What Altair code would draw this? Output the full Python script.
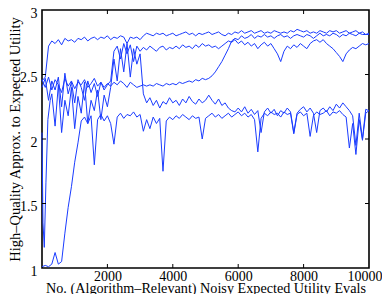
import altair as alt
import pandas as pd

X_TITLE = "No. (Algorithm\u2013Relevant) Noisy Expected Utility Evals"
Y_TITLE = "High\u2013Quality Approx. to Expected Utility"

X_LABELS = [2000, 4000, 6000, 8000, 10000]
Y_LABELS = [1, 1.5, 2, 2.5, 3]
X_INNER_TICKS = [2000, 4000, 6000, 8000]
Y_INNER_TICKS = [1.5, 2, 2.5]

GRID_X = list(range(0, 10001, 100))

run_a = [2.45, 2.48, 2.72, 2.76, 2.74, 2.77, 2.73, 2.78, 2.76, 2.77,
         2.75, 2.78, 2.77, 2.79, 2.76, 2.78, 2.79, 2.77, 2.79, 2.78,
         2.80, 2.77, 2.79, 2.78, 2.80, 2.79, 2.74, 2.79, 2.78, 2.79,
         2.77, 2.80, 2.82, 2.81, 2.80, 2.82, 2.81, 2.82, 2.80, 2.81,
         2.82, 2.80, 2.81, 2.82, 2.83, 2.81, 2.82, 2.80, 2.82, 2.81,
         2.82, 2.83, 2.81, 2.82, 2.83, 2.81, 2.80, 2.82, 2.81, 2.83,
         2.82, 2.84, 2.82, 2.83, 2.84, 2.82, 2.83, 2.84, 2.82, 2.83,
         2.82, 2.84, 2.83, 2.82, 2.83, 2.82, 2.84, 2.83, 2.85, 2.84,
         2.83, 2.84, 2.82, 2.83, 2.82, 2.84, 2.83, 2.82, 2.84, 2.83,
         2.84, 2.82, 2.83, 2.84, 2.82, 2.83, 2.84, 2.82, 2.83, 2.81,
         2.82]

run_b = [2.40, 2.47, 2.30, 2.45, 2.38, 2.48, 2.25, 2.51, 2.35, 2.44,
         2.28, 2.46, 2.40, 2.30, 2.45, 2.36, 2.43, 2.33, 2.44, 2.38,
         2.42, 2.45, 2.68, 2.72, 2.62, 2.74, 2.66, 2.73, 2.60, 2.72,
         2.68, 2.71, 2.69, 2.72, 2.70, 2.68, 2.71, 2.72, 2.69, 2.71,
         2.70, 2.72, 2.70, 2.73, 2.71, 2.72, 2.70, 2.73, 2.71, 2.74,
         2.72, 2.73, 2.71, 2.72, 2.70, 2.72, 2.74, 2.76, 2.75, 2.77,
         2.74, 2.76, 2.73, 2.75, 2.72, 2.74, 2.70, 2.73, 2.75, 2.72,
         2.74, 2.70, 2.66, 2.60, 2.68, 2.72, 2.70, 2.73, 2.71, 2.74,
         2.72, 2.70, 2.74, 2.76, 2.77, 2.75, 2.77, 2.74, 2.72, 2.70,
         2.67, 2.64, 2.60, 2.66, 2.69, 2.71, 2.70, 2.72, 2.74, 2.73,
         2.74]

run_r = [2.46, 2.40, 2.48, 2.38, 2.46, 2.42, 2.36, 2.47, 2.41, 2.45,
         2.39, 2.44, 2.42, 2.46, 2.40, 2.43, 2.47, 2.41, 2.44, 2.40,
         2.43, 2.41, 2.44, 2.42, 2.45, 2.43, 2.40, 2.44, 2.42, 2.40,
         2.41, 2.42, 2.41, 2.42, 2.41, 2.43, 2.42, 2.41, 2.43, 2.42,
         2.43, 2.42, 2.44, 2.43, 2.44, 2.45, 2.44, 2.46, 2.45, 2.47,
         2.46, 2.47, 2.49, 2.52, 2.56, 2.60, 2.65, 2.70, 2.76, 2.78,
         2.77, 2.80, 2.78, 2.79, 2.81, 2.78, 2.80, 2.79, 2.81, 2.79,
         2.80, 2.78, 2.80, 2.81, 2.79, 2.80, 2.78, 2.80, 2.81, 2.80,
         2.79, 2.81, 2.80, 2.78, 2.80, 2.82, 2.80, 2.81, 2.80, 2.82,
         2.81, 2.79, 2.81, 2.80, 2.82, 2.81, 2.80, 2.82, 2.81, 2.81,
         2.81]

run_l_x = [0, 30, 70, 120, 180, 250] + list(range(300, 10001, 100))
run_l = [2.05, 1.35, 1.16, 1.66, 2.15, 2.30,
         2.35, 2.10, 2.42, 2.05, 2.30, 2.18, 2.40,
         2.08, 2.33, 2.20, 2.44, 2.12, 2.30, 2.22, 2.38, 2.15, 2.34,
         2.25, 2.40, 2.62, 2.45, 2.70, 2.52, 2.74, 2.48, 2.70, 2.58,
         2.66, 2.35, 2.28, 2.32, 2.26, 2.30, 2.24, 2.29, 2.27, 2.32,
         2.28, 2.30, 2.26, 2.31, 2.28, 2.33, 2.29, 2.27, 2.31, 2.28,
         2.30, 2.34, 2.30, 2.27, 2.31, 2.26, 2.28, 2.24, 2.22, 2.21,
         2.24, 2.21, 2.25, 2.20, 2.23, 2.19, 2.22, 2.05, 2.21, 2.24,
         2.20, 2.23, 2.18, 2.22, 2.20, 2.24, 2.21, 2.05, 2.20, 2.23,
         2.25, 2.21, 2.24, 2.20, 2.05, 2.22, 2.24, 2.21, 2.25, 2.22,
         2.27, 2.24, 2.28, 2.25, 2.22, 2.18, 1.95, 2.20, 2.00, 2.23,
         2.22]

run_e = [1.01, 1.02, 1.01, 1.03, 1.12, 1.03, 1.05, 1.27, 1.47, 1.63,
         1.82, 1.97, 2.14, 2.17, 2.12, 2.18, 1.80, 2.15, 2.19, 2.14,
         2.18, 2.12, 1.96, 2.17, 2.20, 2.16, 2.19, 2.18, 2.21, 2.17,
         2.19, 2.06, 2.15, 2.08, 2.17, 2.12, 2.16, 1.75, 2.14, 2.17,
         2.15, 2.18, 2.16, 2.19, 2.17, 2.15, 2.18, 2.16, 2.17, 2.00,
         2.16, 2.18, 2.20, 2.17, 2.19, 2.16, 2.18, 2.20, 2.17, 2.19,
         2.21, 2.18, 2.20, 2.17, 2.19, 2.15, 1.90, 2.16, 2.20, 2.18,
         2.21, 2.19, 2.20, 2.17, 2.21, 2.19, 2.20, 2.04, 2.19, 2.21,
         2.18, 2.20, 2.02, 2.18, 2.21, 2.19, 2.20, 2.22, 2.18, 2.21,
         2.20, 2.22, 2.19, 2.17, 1.93, 2.12, 1.88, 2.15, 1.99, 2.20,
         2.22]

series = [("A", GRID_X, run_a), ("B", GRID_X, run_b), ("R", GRID_X, run_r),
          ("L", run_l_x, run_l), ("E", GRID_X, run_e)]
rows = []
for name, xs, ys in series:
    for xv, yv in zip(xs, ys):
        rows.append({"run": name, "evals": xv, "utility": yv})
df = pd.DataFrame(rows)

W, H = 327, 258
FONT = "Liberation Serif"
TICK_LEN = 4

x_scale = alt.Scale(domain=[0, 10000], nice=False, zero=False)
y_scale = alt.Scale(domain=[1, 3], nice=False, zero=False)

x_axis = alt.Axis(values=X_LABELS, format="d", title=X_TITLE,
                  labelPadding=1, labelFlush=True, labelFlushOffset=13,
                  titleY=24, titleBaseline="alphabetic", titleFontSize=14.2)
y_axis = alt.Axis(values=Y_LABELS, format="~g", title=Y_TITLE,
                  labelPadding=5, labelOffset=3, titleX=-34, titleY=H / 2,
                  titleAngle=270, titleBaseline="top", titleAlign="center")


def x_enc():
    return alt.X("evals:Q", scale=x_scale, axis=x_axis)


def y_enc():
    return alt.Y("utility:Q", scale=y_scale, axis=y_axis)


lines = alt.Chart(df).mark_line(color="#1a3cff", strokeWidth=1).encode(
    x=x_enc(), y=y_enc(), detail="run:N",
)

xt = pd.DataFrame({"evals": X_INNER_TICKS})
yt = pd.DataFrame({"utility": Y_INNER_TICKS})

bottom_ticks = alt.Chart(xt).mark_rule(color="black", strokeWidth=1).encode(
    x=x_enc(), y=alt.value(H), y2=alt.value(H - TICK_LEN))
top_ticks = alt.Chart(xt).mark_rule(color="black", strokeWidth=1).encode(
    x=x_enc(), y=alt.value(0), y2=alt.value(TICK_LEN))
left_ticks = alt.Chart(yt).mark_rule(color="black", strokeWidth=1).encode(
    y=y_enc(), x=alt.value(0), x2=alt.value(TICK_LEN))
right_ticks = alt.Chart(yt).mark_rule(color="black", strokeWidth=1).encode(
    y=y_enc(), x=alt.value(W), x2=alt.value(W - TICK_LEN))

chart = alt.layer(lines, bottom_ticks, top_ticks, left_ticks, right_ticks).properties(
    width=W, height=H,
    autosize=alt.AutoSizeParams(type="none"),
    padding={"left": 34, "top": 2, "right": 13, "bottom": 26},
    background="white",
).configure_view(
    stroke="black", strokeWidth=1.6
).configure_axis(
    grid=False, domain=False, ticks=False,
    labelFont=FONT, labelFontSize=14, labelColor="black",
    titleFont=FONT, titleFontSize=14.5, titleFontWeight="normal", titleColor="black",
)

chart.save("out.html", embed_options={"renderer": "svg", "actions": False})
